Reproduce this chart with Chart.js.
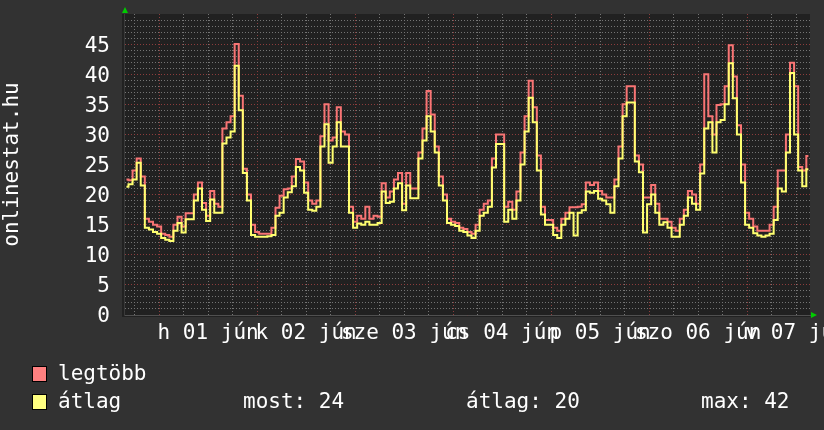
<!DOCTYPE html>
<html>
<head>
<meta charset="utf-8">
<title>onlinestat.hu</title>
<script src="https://cdn.jsdelivr.net/npm/chart.js@4.4.0/dist/chart.umd.min.js"></script>
<style>
  html, body { margin: 0; padding: 0; background: #323232; }
  #wrap { width: 824px; height: 430px; }
</style>
</head>
<body>
<div id="wrap"><canvas id="graph" width="824" height="430"></canvas></div>
<script>

// hours counted from jún 01 00:00, first sample at -8
const startHour = -8

const dayLabels = ['h 01 jún', 'k 02 jún', 'sze 03 jún', 'cs 04 jún', 'p 05 jún', 'szo 06 jún', 'v 07 jún']

// legtöbb (max) per hour
const legtobb = [
  22.5, 22.4, 24, 26, 23, 16, 15.5, 15,
  14.7, 13.5, 13.3, 13, 15, 16.3, 14.7, 16.9, 16.9, 20, 22, 18.6, 16.5, 20.6, 18.5, 18, 31, 32, 33, 45, 36.4, 24.3, 20, 15,
  13.8, 13.5, 13.5, 13.5, 14.5, 17.8, 19.8, 20.9, 21, 23, 25.9, 25.5, 22, 19, 18.5, 19, 29.7, 35, 29, 29.5, 34.5, 30.5, 30, 18,
  15.5, 16.5, 16, 18, 16, 16.5, 16.3, 21.9, 19.5, 20.5, 22.5, 23.6, 18.5, 23.6, 21, 21, 27, 31, 37.2, 33.3, 28, 23, 20, 16,
  15.5, 15.3, 14.5, 14.3, 13.8, 13.5, 15, 17.5, 18.5, 19, 26, 30, 30, 18, 18.8, 17.5, 20.5, 27, 33, 38.9, 34.5, 26.5, 18, 15.8,
  15.8, 14.5, 14, 16, 17, 17.9, 17.9, 18, 18.4, 22, 21.6, 22, 20.6, 20, 19.5, 19.5, 22.5, 28, 35, 38, 38, 26.5, 25, 19.5,
  19.5, 21.6, 18.5, 16, 16, 15.5, 14.5, 14, 16, 17.5, 20.6, 20, 18.5, 25, 40, 33, 30, 34.9, 35, 38, 44.8, 39.6, 31.5, 25,
  17, 16, 14.7, 14, 14, 14, 15, 18, 24, 24, 30, 41.9, 38, 24.6, 24, 26.4
]

// átlag (average) per hour
const atlag = [
  21.3, 21.7, 22.5, 25.3, 21.5, 14.5, 14.2, 13.8,
  13.5, 12.8, 12.5, 12.3, 14, 15.3, 13.7, 15.9, 15.9, 19, 21, 17.5, 15.6, 19.2, 17, 17, 28.5, 29.5, 30.5, 41.4, 34, 23.6, 19, 13.3,
  13, 13, 13, 13.1, 13.3, 16.5, 17, 19.5, 20.4, 21.4, 24.6, 24, 20.3, 17.5, 17.3, 18, 28, 31.7, 25.3, 28, 32, 28, 28, 17,
  14.5, 15.2, 15, 15.5, 15, 15, 15.3, 20.5, 18.6, 18.8, 21, 21.9, 17.4, 21.5, 19.4, 19.4, 26, 29, 33, 30.5, 27, 21.5, 19, 15.3,
  15, 14.8, 14, 13.8, 13.2, 12.8, 14, 16.5, 17, 18, 24.5, 28.4, 28.4, 15.5, 17.5, 16, 19, 25, 30.5, 36.1, 32, 24, 16.7, 15,
  15, 13.3, 12.8, 15, 16, 17, 13.2, 17, 17.4, 20.5, 20.3, 20.6, 19.3, 19, 18.4, 17, 21.4, 26, 33, 35.3, 35.3, 25.5, 23.7, 13.7,
  18.4, 20, 17, 15, 15.4, 14.5, 13, 13, 15, 16.5, 19.5, 18.5, 17.5, 23.5, 31, 32, 27, 32, 32.4, 35, 41.8, 36, 30, 22,
  15, 14.5, 13.6, 13.2, 13, 13.2, 13.5, 15.8, 21, 20.5, 27, 40.2, 30, 24, 21.4, 24.2
]

const yTicks = [0, 5, 10, 15, 20, 25, 30, 35, 40, 45]

// legend numbers
const most = 24
const atlagAll = 20
const maxAll = 42

const font = 'DejaVu Sans Mono'
const gridGray = '#747474'
const gridRed = '#8c3c3c'

function toPoints(values){
  return values.map((v, i) => ({ x: startHour + i, y: v }))
}

// background + plot area
const backdrop = {
  id: 'backdrop',
  beforeDraw(chart){
    const ctx = chart.ctx
    const a = chart.chartArea
    ctx.save()
    ctx.fillStyle = '#323232'
    ctx.fillRect(0, 0, chart.width, chart.height)
    ctx.fillStyle = '#212121'
    ctx.fillRect(a.left - 2, a.top, a.right - a.left + 2, a.bottom - a.top + 2)
    ctx.restore()
  }
}

// arrows and the legend rows below the graph
const extras = {
  id: 'extras',
  afterDraw(chart){
    const ctx = chart.ctx
    const a = chart.chartArea
    ctx.save()

    ctx.fillStyle = '#00cc00'
    ctx.beginPath()
    ctx.moveTo(a.left - 2, a.top - 1)
    ctx.lineTo(a.left + 4, a.top - 1)
    ctx.lineTo(a.left + 1, a.top - 7)
    ctx.closePath()
    ctx.fill()
    ctx.beginPath()
    ctx.moveTo(a.right + 1, a.bottom - 3)
    ctx.lineTo(a.right + 1, a.bottom + 3)
    ctx.lineTo(a.right + 7, a.bottom)
    ctx.closePath()
    ctx.fill()

    ctx.font = '21px "' + font + '"'
    ctx.textBaseline = 'middle'
    ctx.textAlign = 'left'

    const rows = [
      { color: '#ff8080', text: 'legtöbb', y: 366 },
      { color: '#ffff80', text: 'átlag', y: 394 }
    ]
    rows.forEach(r => {
      ctx.fillStyle = r.color
      ctx.fillRect(32, r.y, 14, 15)
      ctx.strokeStyle = '#000000'
      ctx.lineWidth = 1
      ctx.strokeRect(32.5, r.y + 0.5, 14, 15)
      ctx.fillStyle = '#ffffff'
      ctx.fillText(r.text, 58, r.y + 9)
    })

    ctx.fillText('most: ' + most, 243, 403)
    ctx.fillText('átlag: ' + atlagAll, 466, 403)
    ctx.fillText('max: ' + maxAll, 701, 403)

    ctx.restore()
  }
}

const chart = new Chart(document.getElementById('graph'), {
  type: 'line',
  data: {
    datasets: [
      {
        label: 'átlag',
        data: toPoints(atlag),
        borderColor: '#ffff70',
        borderWidth: 2,
        pointRadius: 0,
        stepped: 'middle',
        fill: false
      },
      {
        label: 'legtöbb',
        data: toPoints(legtobb),
        borderColor: '#f87474',
        borderWidth: 2,
        pointRadius: 0,
        stepped: 'middle',
        fill: false
      }
    ]
  },
  options: {
    responsive: false,
    animation: false,
    devicePixelRatio: 1,
    layout: { padding: { left: 0, top: 14, right: 14, bottom: 75 } },
    plugins: {
      legend: { display: false },
      tooltip: { enabled: false }
    },
    scales: {
      x: {
        type: 'linear',
        min: -8.6,
        max: 159.4,
        afterBuildTicks(scale){
          const t = []
          for (let h = -6; h <= 156; h += 6) t.push({ value: h })
          scale.ticks = t
        },
        afterFit(scale){
          scale.height = 40
          scale.paddingLeft = 0
          scale.paddingRight = 0
        },
        grid: {
          drawTicks: false,
          lineWidth: 1,
          color: (c) => (c.tick && c.tick.value % 24 === 0) ? gridRed : gridGray
        },
        border: { display: true, color: '#505050', dash: [1, 2] },
        ticks: {
          autoSkip: false,
          maxRotation: 0,
          padding: 6,
          color: '#ffffff',
          font: { family: font, size: 21 },
          callback: (v) => {
            if (v % 24 !== 12) return ''
            return dayLabels[(v - 12) / 24] || ''
          }
        }
      },
      y: {
        min: 0,
        max: 50,
        afterBuildTicks(scale){
          const t = []
          for (let v = 0; v <= 49; v++) t.push({ value: v })
          scale.ticks = t
        },
        afterFit(scale){
          scale.width = 124
          scale.paddingTop = 0
          scale.paddingBottom = 0
        },
        grid: {
          drawTicks: false,
          color: (c) => (c.tick && c.tick.value % 5 === 0) ? gridRed : gridGray
        },
        border: { display: true, color: '#3a3a3a', dash: [1, 2] },
        ticks: {
          autoSkip: false,
          padding: 14,
          labelOffset: 2,
          color: '#ffffff',
          font: { family: font, size: 21 },
          callback: (v) => yTicks.includes(v) ? String(v) : ''
        },
        title: {
          display: true,
          text: 'onlinestat.hu',
          color: '#ffffff',
          font: { family: font, size: 21 },
          padding: 0
        }
      }
    }
  },
  plugins: [backdrop, extras]
})

</script>
</body>
</html>
